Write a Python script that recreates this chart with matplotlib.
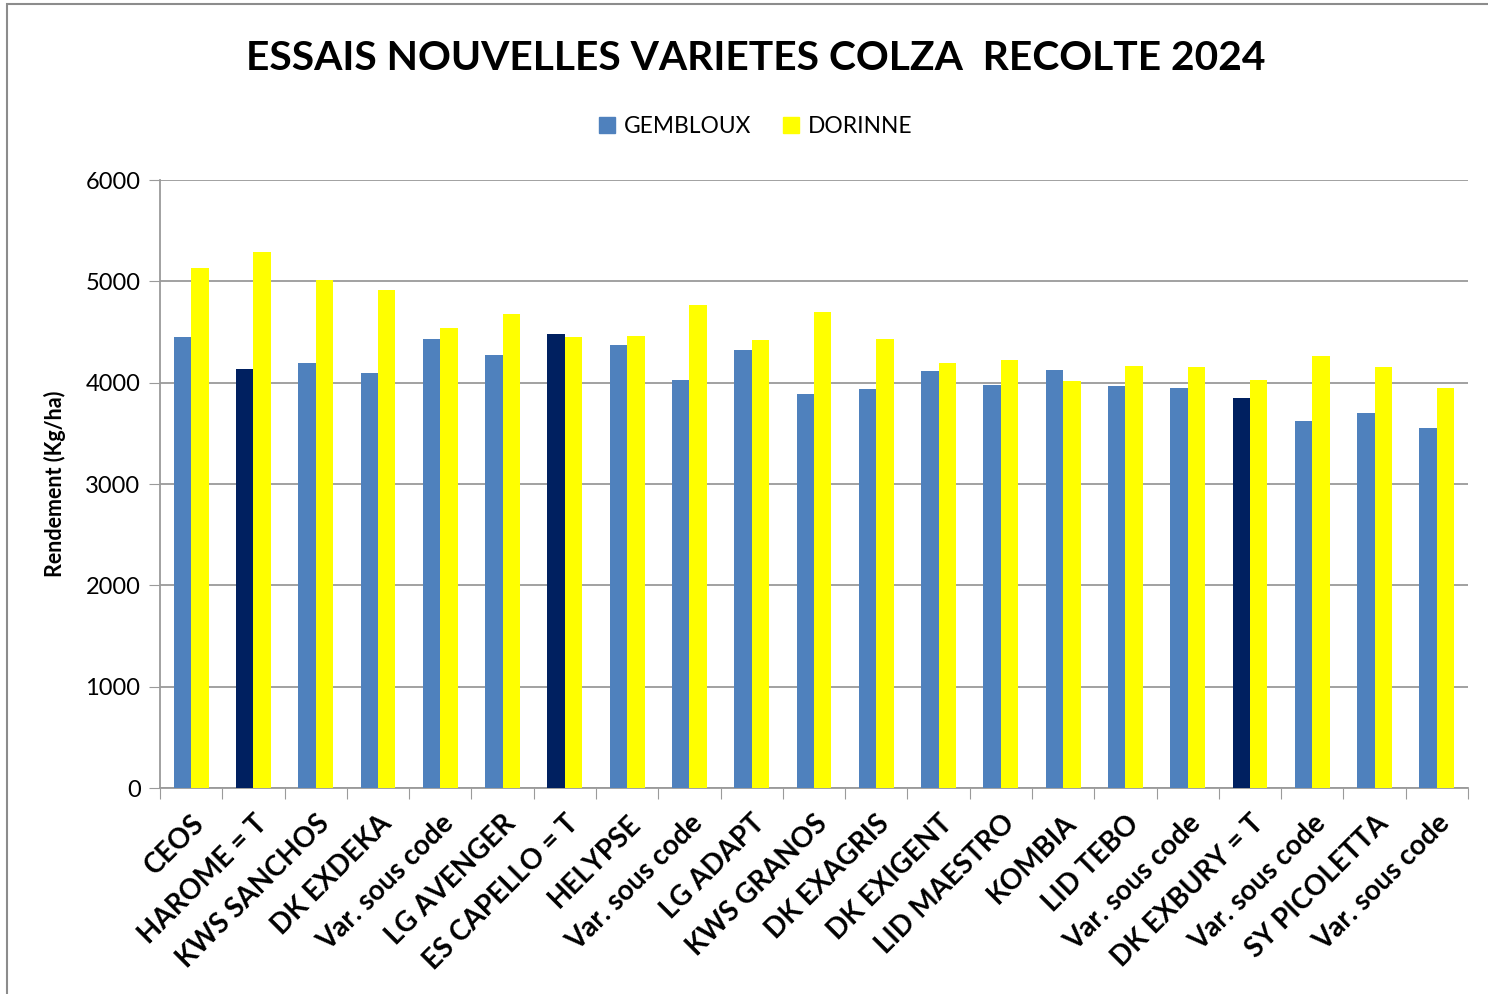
import numpy as np
import matplotlib.pyplot as plt
from matplotlib.patches import Patch, Rectangle

plt.rcParams['font.family'] = ['Lato', 'DejaVu Sans']

varieties = ['CEOS', 'HAROME = T', 'KWS SANCHOS', 'DK EXDEKA', 'Var. sous code',
             'LG AVENGER', 'ES CAPELLO = T', 'HELYPSE', 'Var. sous code', 'LG ADAPT',
             'KWS GRANOS', 'DK EXAGRIS', 'DK EXIGENT', 'LID MAESTRO', 'KOMBIA',
             'LID TEBO', 'Var. sous code', 'DK EXBURY = T', 'Var. sous code',
             'SY PICOLETTA', 'Var. sous code']
gembloux = [4450, 4137, 4199, 4098, 4428, 4275, 4477, 4372, 4028, 4320,
            3888, 3937, 4116, 3974, 4129, 3964, 3951, 3849, 3622, 3697, 3556]
dorinne = [5131, 5294, 5016, 4918, 4539, 4680, 4451, 4460, 4769, 4422,
           4700, 4436, 4191, 4228, 4015, 4164, 4155, 4023, 4266, 4155, 3951]
temoins = [1, 6, 17]  # témoins, drawn in dark blue

blue = '#4F81BD'
navy = '#002060'
yellow = '#FFFF00'
grid_col = '#9A9A9A'

fig = plt.figure(figsize=(14.88, 9.94), dpi=100)
ax = fig.add_axes([0.1075, 0.2072, 0.8791, 0.6117])

x = np.arange(len(varieties))
w = 0.28
g_colors = [navy if i in temoins else blue for i in x]
ax.bar(x - w / 2, gembloux, w, color=g_colors, zorder=3)
ax.bar(x + w / 2, dorinne, w, color=yellow, zorder=3)

ax.set_xlim(-0.5, len(varieties) - 0.5)
ax.set_ylim(0, 6000)
ax.set_yticks(np.arange(0, 6001, 1000))
ax.yaxis.grid(True, color=grid_col, linewidth=1.3, zorder=0)
ax.tick_params(axis='y', labelsize=17, length=8, color=grid_col, pad=6)

# category ticks between groups, labels at the centres
ax.set_xticks(np.arange(-0.5, len(varieties)), minor=False)
ax.set_xticklabels([])
ax.set_xticks(x, minor=True)
ax.set_xticklabels(varieties, minor=True, rotation=45, ha='right',
                   rotation_mode='anchor', fontsize=20, fontweight='bold')
ax.tick_params(axis='x', which='major', length=8, color=grid_col)
ax.tick_params(axis='x', which='minor', length=0, pad=16)

for s in ['top', 'right']:
    ax.spines[s].set_visible(False)
for s in ['left', 'bottom']:
    ax.spines[s].set_color(grid_col)
    ax.spines[s].set_linewidth(1.3)

ax.set_ylabel('Rendement (Kg/ha)', fontsize=15.5, fontweight='bold', labelpad=14)

fig.suptitle('ESSAIS NOUVELLES VARIETES COLZA  RECOLTE 2024', x=0.508, y=0.96,
             fontsize=29.3, fontweight='bold')

handles = [Patch(color=blue, label='GEMBLOUX'), Patch(color=yellow, label='DORINNE')]
fig.legend(handles=handles, loc='center', bbox_to_anchor=(0.508, 0.873), ncol=2,
           frameon=False, fontsize=16.4, handlelength=0.7, handleheight=0.7,
           handletextpad=0.4, columnspacing=1.4)

# outer chart frame
fig.patches.append(Rectangle((0.005, -0.01), 1.2, 1.006, transform=fig.transFigure,
                             fill=False, edgecolor='#8C8C8C', linewidth=1.5))

fig.savefig('out.png', dpi=100)
